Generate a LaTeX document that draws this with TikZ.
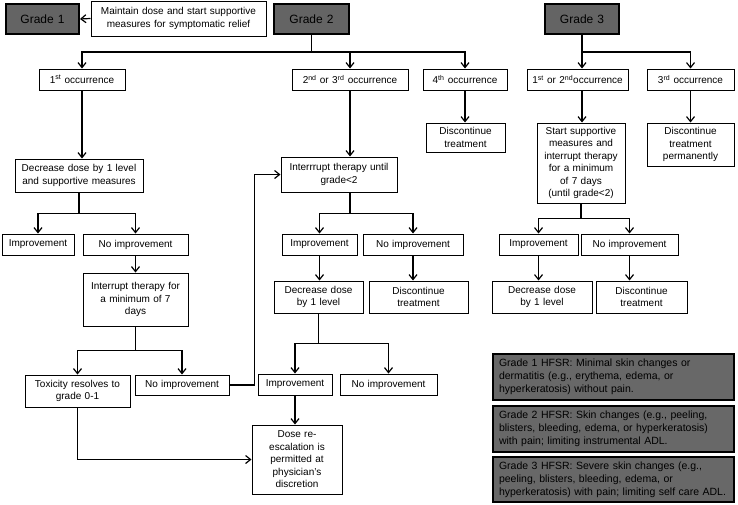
\documentclass[tikz,border=0pt]{standalone}
\usepackage{fontspec}
\setmainfont{Liberation Sans}
\usetikzlibrary{arrows.meta}
\definecolor{gradegray}{RGB}{100,100,100}
\definecolor{hfsrgray}{RGB}{104,104,104}
\tikzset{
  box/.style={draw, fill=white, line width=1pt, inner sep=2pt, align=center, font=\fontsize{10}{12.5}\selectfont},
  gradebox/.style={box, fill=gradegray, line width=2pt, font=\fontsize{12}{14}\selectfont},
  hfsrbox/.style={box, fill=hfsrgray, line width=2pt, align=left, inner xsep=6pt, font=\fontsize{10.5}{12.8}\selectfont},
  link/.style={line width=1.2pt},
  arr/.style={link, -{Straight Barb[length=5pt,width=8pt]}}
}
\begin{document}
\begin{tikzpicture}[x=1pt, y=-1pt]
\useasboundingbox (0,0) rectangle (738,504);
\node[gradebox, text width=69pt, minimum height=30pt] (g1) at (42.5,19) {Grade 1};
\node[box, text width=171pt, minimum height=35pt] (maint) at (178.5,18.5) {Maintain dose and start supportive\\measures for symptomatic relief};
\node[gradebox, text width=71pt, minimum height=30pt] (g2) at (311.5,19) {Grade 2};
\node[gradebox, text width=70pt, minimum height=30pt] (g3) at (582,19) {Grade 3};
\node[box, text width=82pt, minimum height=21pt] (occ1) at (82,79.5) {1\textsuperscript{st} occurrence};
\node[box, text width=112pt, minimum height=21pt] (occ23) at (350,79.5) {2\textsuperscript{nd} or 3\textsuperscript{rd} occurrence};
\node[box, text width=80pt, minimum height=21pt] (occ4) at (465,79.5) {4\textsuperscript{th} occurrence};
\node[box, text width=97pt, minimum height=21pt] (occ12) at (577.5,79.5) {1\textsuperscript{st} or 2\textsuperscript{nd}occurrence};
\node[box, text width=83pt, minimum height=21pt] (occ3) at (690.5,79.5) {3\textsuperscript{rd} occurrence};
\node[box, text width=75pt, minimum height=29pt] (disc4) at (465.5,137.5) {Discontinue\\treatment};
\node[box, text width=84pt, minimum height=80pt] (start) at (581,163) {Start supportive\\measures and\\interrupt therapy\\for a minimum\\of 7 days\\(until grade\textless2)};
\node[box, text width=83pt, minimum height=43pt] (discperm) at (690.5,144.5) {Discontinue\\treatment\\permanently};
\node[box, text width=124pt, minimum height=33pt] (dec1) at (79,175.5) {Decrease dose by 1 level\\and supportive measures};
\node[box, text width=68pt, minimum height=21pt] (imp1) at (38,244.5) {Improvement};
\node[box, text width=101pt, minimum height=21pt] (noimp1) at (135.5,244.5) {No improvement};
\node[box, text width=101pt, minimum height=53pt] (intr1) at (135.5,299.5) {Interrupt therapy for\\a minimum of 7\\days};
\node[box, text width=101pt, minimum height=32pt] (tox) at (77.5,391) {Toxicity resolves to\\grade 0-1};
\node[box, text width=90pt, minimum height=20pt] (noimp2) at (182,385) {No improvement};
\node[box, text width=112pt, minimum height=35pt] (intr2) at (339,174.5) {Interrrupt therapy until\\grade\textless2};
\node[box, text width=71pt, minimum height=21pt] (imp2) at (319.5,244.5) {Improvement};
\node[box, text width=96pt, minimum height=21pt] (noimp3) at (413,244.5) {No improvement};
\node[box, text width=85pt, minimum height=32pt] (dec2) at (318.5,297) {Decrease dose\\by 1 level};
\node[box, text width=95pt, minimum height=32pt] (disc2) at (418.5,297) {Discontinue\\treatment};
\node[box, text width=70pt, minimum height=21pt] (imp3) at (295,384.5) {Improvement};
\node[box, text width=93pt, minimum height=21pt] (noimp4) at (388.5,384.5) {No improvement};
\node[box, text width=86pt, minimum height=69pt] (dose) at (297,459.5) {Dose re-\\escalation is\\permitted at\\physician's\\discretion};
\node[box, text width=75pt, minimum height=21pt] (imp4) at (538.5,244.5) {Improvement};
\node[box, text width=93pt, minimum height=21pt] (noimp5) at (629.5,244.5) {No improvement};
\node[box, text width=96pt, minimum height=32pt] (dec3) at (542,297) {Decrease dose\\by 1 level};
\node[box, text width=87pt, minimum height=32pt] (disc3) at (641.5,297) {Discontinue\\treatment};
\node[hfsrbox, text width=229pt, minimum height=46pt] (hfsr1) at (613.5,377) {Grade 1 HFSR: Minimal skin changes or\\dermatitis (e.g., erythema, edema, or\\hyperkeratosis) without pain.};
\node[hfsrbox, text width=229pt, minimum height=46pt] (hfsr2) at (613.5,429) {Grade 2 HFSR: Skin changes (e.g., peeling,\\blisters, bleeding, edema, or hyperkeratosis)\\with pain; limiting instrumental ADL.};
\node[hfsrbox, text width=229pt, minimum height=45pt] (hfsr3) at (613.5,479.5) {Grade 3 HFSR: Severe skin changes (e.g.,\\peeling, blisters, bleeding, edema, or\\hyperkeratosis) with pain; limiting self care ADL.};
\draw[arr] (maint.west) -- (g1.east);
\draw[link] (g2.south) -- ++(0,17) coordinate (s2);
\draw[arr] (s2) -| (occ1.north);
\draw[arr] (s2) -| (occ23.north);
\draw[arr] (s2) -| (occ4.north);
\draw[arr] (g3.south) -- (g3.south |- occ12.north);
\draw[arr] (g3.south) ++(0,17) -| (occ3.north);
\draw[arr] (occ4.south) -- (occ4.south |- disc4.north);
\draw[arr] (g3.south |- occ12.south) -- (g3.south |- start.north);
\draw[arr] (occ3.south) -- (discperm.north);
\draw[arr] (occ1.south) -- (occ1.south |- dec1.north);
\draw[link] (dec1.south) -- ++(0,21) coordinate (b1);
\draw[arr] (b1) -| (imp1.north);
\draw[arr] (b1) -| (noimp1.north);
\draw[arr] (noimp1.south) -- (intr1.north);
\draw[link] (intr1.south) -- ++(0,24) coordinate (b2);
\draw[arr] (b2) -| (tox.north);
\draw[arr] (b2) -| (noimp2.north);
\draw[arr] (noimp2.east) -- ++(25,0) |- (intr2.west);
\draw[arr] (tox.south) |- (dose.west);
\draw[arr] (occ23.south) -- (occ23.south |- intr2.north);
\draw[link] (intr2.south -| occ23.south) -- ++(0,21) coordinate (b3);
\draw[arr] (b3) -| (imp2.north);
\draw[arr] (b3) -| (noimp3.north);
\draw[arr] (imp2.south) -- (imp2.south |- dec2.north);
\draw[arr] (noimp3.south) -- (noimp3.south |- disc2.north);
\draw[link] (dec2.south) -- ++(0,30) coordinate (b4);
\draw[arr] (b4) -| (imp3.north);
\draw[arr] (b4) -| (noimp4.north);
\draw[arr] (imp3.south) -- (imp3.south |- dose.north);
\draw[link] (start.south) -- ++(0,15) coordinate (b5);
\draw[arr] (b5) -| (imp4.north);
\draw[arr] (b5) -| (noimp5.north);
\draw[arr] (imp4.south) -- (imp4.south |- dec3.north);
\draw[arr] (noimp5.south) -- (noimp5.south |- disc3.north);
\end{tikzpicture}
\end{document}
